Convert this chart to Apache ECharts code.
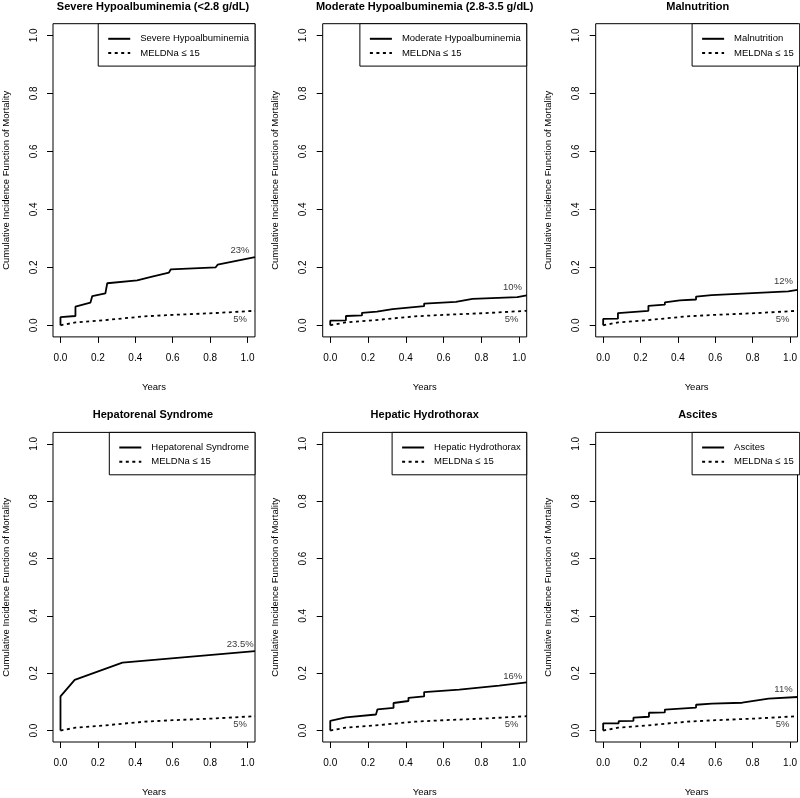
<!DOCTYPE html>
<html>
<head>
<meta charset="utf-8">
<script src="https://cdn.jsdelivr.net/npm/echarts@6/dist/echarts.min.js"></script>
<style>html,body{margin:0;padding:0;background:#fff}#c{width:800px;height:798px}</style>
</head>
<body>
<div id="c"></div>
<script>
// ---- data ----
const titles = ['Severe Hypoalbuminemia (<2.8 g/dL)', 'Moderate Hypoalbuminemia (2.8-3.5 g/dL)', 'Malnutrition',
  'Hepatorenal Syndrome', 'Hepatic Hydrothorax', 'Ascites'];
const groupNames = ['Severe Hypoalbuminemia', 'Moderate Hypoalbuminemia', 'Malnutrition',
  'Hepatorenal Syndrome', 'Hepatic Hydrothorax', 'Ascites'];
const refName = 'MELDNa \u2264 15';
const tickValues = [0, 0.2, 0.4, 0.6, 0.8, 1.0];

const meldX = [0, 0, 0.08, 0.24, 0.25, 0.45, 0.6, 0.82, 1.04];
const meldY = [0, 0.005, 0.010, 0.018, 0.024, 0.031, 0.036, 0.042, 0.050];

const sevX = [0, 0, 0.08, 0.08, 0.16, 0.17, 0.24, 0.25, 0.41, 0.42, 0.49, 0.58, 0.59, 0.83, 0.84, 1.04];
const sevY = [0, 0.028, 0.032, 0.064, 0.078, 0.101, 0.110, 0.145, 0.155, 0.161, 0.168, 0.182, 0.193, 0.200, 0.209, 0.235];

const modX = [0, 0, 0.083, 0.083, 0.168, 0.168, 0.247, 0.247, 0.33, 0.33, 0.497, 0.497, 0.665, 0.753, 0.99, 1.04];
const modY = [0, 0.016, 0.017, 0.032, 0.034, 0.043, 0.047, 0.053, 0.056, 0.059, 0.066, 0.075, 0.081, 0.091, 0.097, 0.103];

const malX = [0, 0, 0.079, 0.079, 0.242, 0.242, 0.33, 0.33, 0.41, 0.497, 0.497, 0.58, 0.99, 1.0, 1.04];
const malY = [0, 0.022, 0.023, 0.042, 0.050, 0.067, 0.071, 0.079, 0.086, 0.089, 0.099, 0.104, 0.117, 0.121, 0.122];

const hrsX = [0, 0, 0.076, 0.331, 1.04];
const hrsY = [0, 0.119, 0.177, 0.237, 0.277];

const hhX = [0, 0, 0.083, 0.242, 0.25, 0.335, 0.335, 0.414, 0.414, 0.497, 0.497, 0.683, 0.894, 1.04];
const hhY = [0, 0.034, 0.046, 0.056, 0.074, 0.079, 0.096, 0.103, 0.114, 0.119, 0.134, 0.143, 0.157, 0.168];

const ascX = [0, 0, 0.083, 0.083, 0.162, 0.162, 0.245, 0.245, 0.33, 0.33, 0.497, 0.497, 0.582, 0.744, 0.885, 1.04];
const ascY = [0, 0.025, 0.025, 0.033, 0.034, 0.045, 0.048, 0.062, 0.063, 0.073, 0.080, 0.090, 0.094, 0.097, 0.111, 0.117];

const groupXs = [sevX, modX, malX, hrsX, hhX, ascX];
const groupYs = [sevY, modY, malY, hrsY, hhY, ascY];

// annotation labels: text, x, y (data units)
const upperLabelText = ['23%', '10%', '12%', '23.5%', '16%', '11%'];
const upperLabelX = [0.96, 0.965, 0.965, 0.961, 0.966, 0.965];
const upperLabelY = [0.26, 0.13, 0.151, 0.30, 0.19, 0.142];
const refLabelText = '5%';
const refLabelX = 0.96;
const refLabelY = 0.02;

// ---- layout ----
const FONT = "'Liberation Sans', Arial, Helvetica, sans-serif";
const colLeft = [51, 322.7, 595.7];
const rowTop = [23.7, 432.4];
const boxW = 204, boxH = 313.2;

const grids = [], xAxes = [], yAxes = [], series = [], legends = [], graphics = [];
const zip = (xs, ys) => xs.map((x, i) => [x, ys[i]]);

for (let i = 0; i < 6; i++) {
  const c = i % 3, r = Math.floor(i / 3);
  const L = colLeft[c], T = rowTop[r];
  grids.push({left: L, top: T, width: boxW, height: boxH, show: true, borderColor: '#000', borderWidth: 1, backgroundColor: 'transparent', containLabel: false});
  xAxes.push({
    gridIndex: i, type: 'value', min: -0.04, max: 1.04,
    axisLine: {show: false, onZero: false},
    axisTick: {show: true, inside: false, customValues: tickValues, length: 6, lineStyle: {color: '#000', width: 1}},
    axisLabel: {customValues: tickValues, formatter: v => v.toFixed(1), fontSize: 10, color: '#000', fontFamily: FONT, margin: 16},
    splitLine: {show: false},
    name: 'Years', nameLocation: 'middle', nameGap: 45,
    nameTextStyle: {fontSize: 9.5, color: '#000', fontFamily: FONT}
  });
  yAxes.push({
    gridIndex: i, type: 'value', min: -0.04, max: 1.04,
    axisLine: {show: false, onZero: false},
    axisTick: {show: true, inside: false, customValues: tickValues, length: 6, lineStyle: {color: '#000', width: 1}},
    axisLabel: {customValues: tickValues, formatter: v => v.toFixed(1), fontSize: 10, color: '#000', fontFamily: FONT, margin: 14, rotate: 90},
    splitLine: {show: false},
    name: 'Cumulative Incidence Function of Mortality', nameLocation: 'middle', nameGap: 42, nameRotate: 90,
    nameTextStyle: {fontSize: 9.5, color: '#000', fontFamily: FONT}
  });
  series.push({
    name: groupNames[i], type: 'line', xAxisIndex: i, yAxisIndex: i,
    data: zip(groupXs[i], groupYs[i]), symbol: 'none', silent: true, animation: false,
    lineStyle: {color: '#000', width: 1.8, type: 'solid'}, itemStyle: {color: '#000'}
  });
  series.push({
    name: refName, type: 'line', xAxisIndex: i, yAxisIndex: i,
    data: zip(meldX, meldY), symbol: 'none', silent: true, animation: false,
    lineStyle: {color: '#000', width: 1.8, type: [3, 3.5]}, itemStyle: {color: '#000'}
  });
  series.push({
    type: 'scatter', xAxisIndex: i, yAxisIndex: i, symbolSize: 0, silent: true, animation: false,
    data: [
      {value: [upperLabelX[i], upperLabelY[i]], name: upperLabelText[i]},
      {value: [refLabelX, refLabelY], name: refLabelText}
    ],
    label: {show: true, formatter: '{b}', position: 'inside', align: 'center', verticalAlign: 'middle',
      fontSize: 9.5, color: '#000', fontFamily: FONT}
  });
  legends.push({
    data: [groupNames[i], refName], orient: 'vertical',
    right: 800 - (L + boxW), top: T,
    padding: [9.5, 6, 7.5, 9], itemWidth: 22, itemHeight: 14, itemGap: 3,
    borderColor: '#000', borderWidth: 1, backgroundColor: '#fff', borderRadius: 0,
    selectedMode: false,
    itemStyle: {opacity: 0, borderWidth: 0},
    textStyle: {fontSize: 9.5, color: '#000', fontFamily: FONT, padding: [0, 0, 0, 5]}
  });
  graphics.push({
    type: 'text', x: L + boxW / 2, y: T - 22.7, silent: true,
    style: {text: titles[i], font: 'bold 11px ' + FONT, fill: '#000', textAlign: 'center', textVerticalAlign: 'top', align: 'center', verticalAlign: 'top'}
  });
}

const chart = echarts.init(document.getElementById('c'), null, {renderer: 'canvas'});
chart.setOption({
  animation: false,
  backgroundColor: '#fff',
  grid: grids, xAxis: xAxes, yAxis: yAxes, series: series, legend: legends, graphic: graphics
});
</script>
</body>
</html>
